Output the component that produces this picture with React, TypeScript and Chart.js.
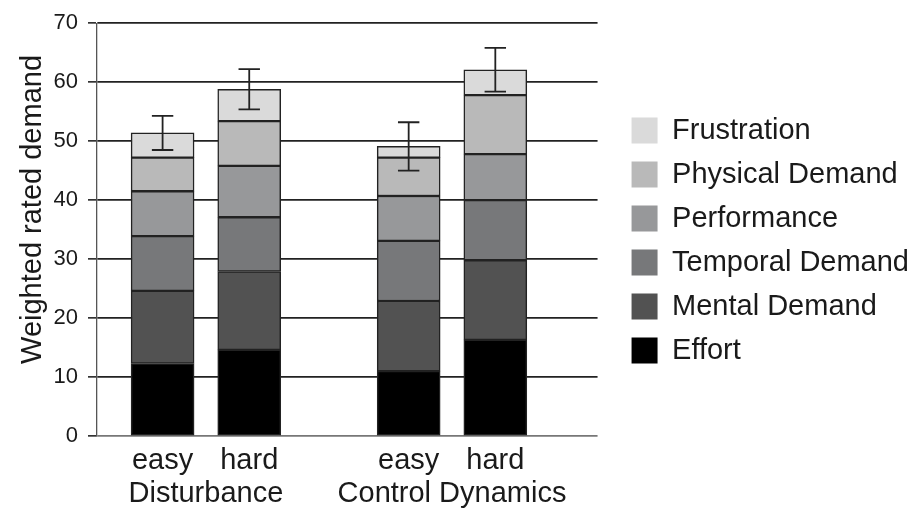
import { useEffect, useRef } from "react";
import { Chart, registerables } from "chart.js";

Chart.register(...registerables);

// ---- data ----
const groups = ["Disturbance", "Control Dynamics"];
const levels = ["easy", "hard"];
const componentNames = [
  "Effort",
  "Mental Demand",
  "Temporal Demand",
  "Performance",
  "Physical Demand",
  "Frustration",
];
// bar order: Disturbance easy, Disturbance hard, Control Dynamics easy, Control Dynamics hard
const effort = [12.3, 14.6, 11.0, 16.3];
const mentalDemand = [12.3, 13.3, 11.9, 13.5];
const temporalDemand = [9.3, 9.2, 10.2, 10.2];
const performance = [7.6, 8.7, 7.6, 7.8];
const physicalDemand = [5.7, 7.6, 6.5, 10.0];
const frustration = [4.2, 5.4, 1.9, 4.3];
const errorValues = [2.9, 3.4, 4.1, 3.7];
const yMin = 0;
const yMax = 70;
const yStep = 10;
const yTitle = "Weighted rated demand";

const series = [effort, mentalDemand, temporalDemand, performance, physicalDemand, frustration];
const colors = ["#000000", "#525252", "#77787a", "#97989a", "#b9b9b9", "#dadada"];

// ---- layout helpers ----
const GROUP_GAP = 0.84;
const groupStride = levels.length + GROUP_GAP;
const barPositions: number[] = [];
const barLabels: string[] = [];
groups.forEach((_, gi) =>
  levels.forEach((lv, li) => {
    barPositions.push(gi * groupStride + li);
    barLabels.push(lv);
  })
);
const groupCenters = groups.map((_, gi) => gi * groupStride + (levels.length - 1) / 2);

const FONT = "'Liberation Sans', Arial, Helvetica, sans-serif";

const errorBarPlugin = {
  id: "errorBars",
  afterDatasetsDraw(chart: any) {
    const ctx = chart.ctx;
    const meta = chart.getDatasetMeta(chart.data.datasets.length - 1);
    const yScale = chart.scales.y;
    ctx.save();
    ctx.strokeStyle = "#222";
    ctx.lineWidth = 1.8;
    meta.data.forEach((bar: any, i: number) => {
      const total = series.reduce((s, arr) => s + arr[i], 0);
      const { x, width } = bar.getProps(["x", "width"], true);
      const hi = yScale.getPixelForValue(total + errorValues[i]);
      const lo = yScale.getPixelForValue(total - errorValues[i]);
      const half = width * 0.17;
      ctx.beginPath();
      ctx.moveTo(x, hi);
      ctx.lineTo(x, lo);
      ctx.moveTo(x - half, hi);
      ctx.lineTo(x + half, hi);
      ctx.moveTo(x - half, lo);
      ctx.lineTo(x + half, lo);
      ctx.stroke();
    });
    ctx.restore();
  },
};

export default function App() {
  const ref = useRef<HTMLCanvasElement | null>(null);

  useEffect(() => {
    if (!ref.current) return;
    const xMin = barPositions[0] - 0.757;
    const xMax = barPositions[barPositions.length - 1] + 1.18;
    const chart = new Chart(ref.current, {
      type: "bar",
      data: {
        datasets: componentNames.map((name, k) => ({
          label: name,
          data: series[k].map((v, i) => ({ x: barPositions[i], y: v })),
          backgroundColor: colors[k],
          borderColor: "#222",
          borderWidth: 1.5,
          borderSkipped: false,
          barThickness: 63,
        })),
      },
      options: {
        animation: false,
        responsive: false,
        devicePixelRatio: 1,
        layout: { padding: { top: 20, bottom: 0, left: 0, right: 0 } },
        plugins: {
          tooltip: { enabled: false },
          legend: {
            position: "right",
            align: "start",
            reverse: true,
            maxWidth: 340,
            title: {
              display: true,
              text: " ",
              font: { family: FONT, size: 20 },
              padding: { top: 57, bottom: 0 },
            },
            labels: {
              boxWidth: 26,
              boxHeight: 26,
              padding: 15,
              color: "#1a1a1a",
              font: { family: FONT, size: 29 },
              generateLabels: (c: any) =>
                (Chart.defaults.plugins.legend.labels as any)
                  .generateLabels(c)
                  .map((l: any) => ({ ...l, lineWidth: 0, strokeStyle: l.fillStyle })),
            },
          },
        },
        scales: {
          x: {
            type: "linear",
            position: "bottom",
            min: xMin,
            max: xMax,
            offset: false,
            stacked: true,
            grid: { display: false, drawTicks: false },
            border: { display: false },
            afterBuildTicks: (s: any) => {
              s.ticks = barPositions.map((v) => ({ value: v }));
            },
            afterFit: (s: any) => {
              s.height = 41;
            },
            ticks: {
              autoSkip: false,
              maxRotation: 0,
              padding: 8,
              color: "#1a1a1a",
              font: { family: FONT, size: 29 },
              callback: (_v: any, i: number) => barLabels[i],
            },
          },
          x2: {
            type: "linear",
            position: "bottom",
            min: xMin,
            max: xMax,
            offset: false,
            grid: { display: false, drawTicks: false },
            border: { display: false },
            afterBuildTicks: (s: any) => {
              s.ticks = groupCenters.map((v) => ({ value: v }));
            },
            afterFit: (s: any) => {
              s.height = 35;
            },
            ticks: {
              autoSkip: false,
              maxRotation: 0,
              padding: 0,
              color: "#1a1a1a",
              font: { family: FONT, size: 29 },
              callback: (_v: any, i: number) => groups[i],
            },
          },
          y: {
            type: "linear",
            stacked: true,
            min: yMin,
            max: yMax,
            afterFit: (s: any) => {
              s.width = 97;
            },
            ticks: {
              stepSize: yStep,
              padding: 10,
              color: "#1a1a1a",
              font: { family: FONT, size: 22 },
            },
            grid: {
              color: (c: any) => (c.tick && c.tick.value === 0 ? "#777" : "#222"),
              tickColor: "#333",
              lineWidth: 1.7,
              tickLength: 9,
            },
            border: { display: true, color: "#555", width: 1.3 },
            title: {
              display: true,
              text: "     " + yTitle,
              color: "#1a1a1a",
              font: { family: FONT, size: 29 },
              padding: { top: 16, bottom: 0 },
            },
          },
          y2: {
            type: "linear",
            position: "right",
            display: true,
            grid: { display: false, drawTicks: false },
            border: { display: false },
            ticks: { display: false },
            afterFit: (s: any) => {
              s.width = 19;
            },
          },
        },
      },
      plugins: [errorBarPlugin],
    });
    return () => chart.destroy();
  }, []);

  return (
    <div style={{ position: "fixed", left: 0, top: 0, width: 919, height: 512, background: "#fff" }}>
      <canvas ref={ref} width={919} height={512} style={{ display: "block" }} />
    </div>
  );
}
